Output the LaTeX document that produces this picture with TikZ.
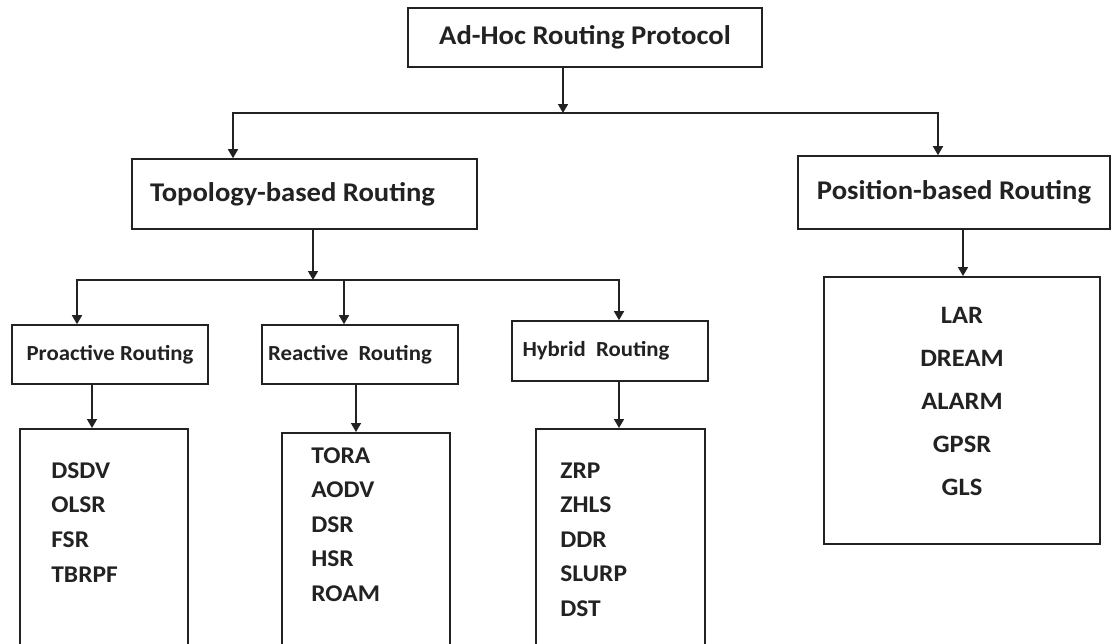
\documentclass[tikz,border=0pt]{standalone}
\usepackage{fontspec}
\setmainfont{Carlito}[FakeStretch=1.06]
\usetikzlibrary{arrows.meta, positioning, calc}

\definecolor{ink}{HTML}{222222}

\tikzset{
  box/.style={draw=ink, line width=1.6pt, inner sep=0pt, text=ink},
  head/.style={box, font=\fontsize{27}{32}\selectfont\bfseries},
  kind/.style={box, minimum width=196pt, minimum height=59pt, font=\fontsize{21.5}{26}\selectfont\bfseries},
  list/.style={box, anchor=north, minimum height=230pt},
  items/.style={align=left, anchor=north west, inner sep=0pt, text=ink, font=\fontsize{24}{34.6}\selectfont\bfseries},
  arr/.style={draw=ink, line width=1.6pt, -{Triangle[width=10pt,length=9pt]}},
  fork/.style={draw=ink, line width=1.6pt, {Triangle[width=10pt,length=9pt]}-{Triangle[width=10pt,length=9pt]}},
}

\begin{document}
\begin{tikzpicture}[x=1pt, y=-1pt]
\useasboundingbox (0,0) rectangle (1113,643);
\fill[white] (0,0) rectangle (1113,643);

% main levels
\node[head, minimum width=354pt, minimum height=59pt] (adhoc) at (585,37.5) {Ad-Hoc Routing Protocol};
\node[head, minimum width=345pt, minimum height=70pt] (topo) at (304.5,194) {\hspace*{-24pt}Topology-based Routing};
\node[head, minimum width=312pt, minimum height=73pt] (posn) at (954,192.5) {Position-based Routing};

% routing kinds
\node[kind] (pro) at (110,354.5) {Proactive Routing};
\node[kind] (rea) at (360,354.5) {\hspace*{-20pt}Reactive\ \ Routing};
\node[kind, minimum height=60pt] (hyb) at (610,351) {\hspace*{-28pt}Hybrid\ \ Routing};

% protocol lists
\node[list, minimum width=168pt] (prolist) at (104,428) {};
\node[list, minimum width=168pt] (realist) at (366,432) {};
\node[list, minimum width=169pt] (hyblist) at (620.5,428) {};
\node[list, minimum width=276pt, minimum height=267pt] (poslist) at (962,276) {};

\node[items] (protext) at ($(prolist.north west)+(32,34.4)$) {DSDV\\OLSR\\FSR\\TBRPF};
\node[items, font=\fontsize{24}{34.5}\selectfont\bfseries] (reatext) at ($(realist.north west)+(30,15.4)$) {TORA\\AODV\\DSR\\HSR\\ROAM};
\node[items, font=\fontsize{24}{34.5}\selectfont\bfseries] (hybtext) at ($(hyblist.north west)+(25,34.4)$) {ZRP\\ZHLS\\DDR\\SLURP\\DST};
\node[items, align=center, anchor=north, font=\fontsize{25}{43}\selectfont\bfseries] (postext) at ($(poslist.north)+(0,31)$) {LAR\\DREAM\\ALARM\\GPSR\\GLS};

% junctions
\coordinate (b1in) at (563,113);
\coordinate (b1l) at (233,113);
\coordinate (b1r) at (938,113);
\coordinate (b2in) at (313,280);
\coordinate (b2l) at (77,280);
\coordinate (b2m) at (344,280);
\coordinate (b2r) at (619,280);
\coordinate (pdrop) at (92,0);
\coordinate (rdrop) at (356,0);
\coordinate (hdrop) at (619,0);
\coordinate (sdrop) at (963,0);

\draw[arr] (adhoc.south -| b1in) -- (b1in);
\draw[fork] (topo.north -| b1l) -- (b1l) -- (b1r) -- (posn.north -| b1r);
\draw[arr] (topo.south -| b2in) -- (b2in);
\draw[fork] (pro.north -| b2l) -- (b2l) -- (b2r) -- (hyb.north -| b2r);
\draw[arr] (b2m) -- (rea.north -| b2m);

\draw[arr] (pro.south -| pdrop) -- (prolist.north -| pdrop);
\draw[arr] (rea.south -| rdrop) -- (realist.north -| rdrop);
\draw[arr] (hyb.south -| hdrop) -- (hyblist.north -| hdrop);
\draw[arr] (posn.south -| sdrop) -- (poslist.north -| sdrop);
\end{tikzpicture}
\end{document}
